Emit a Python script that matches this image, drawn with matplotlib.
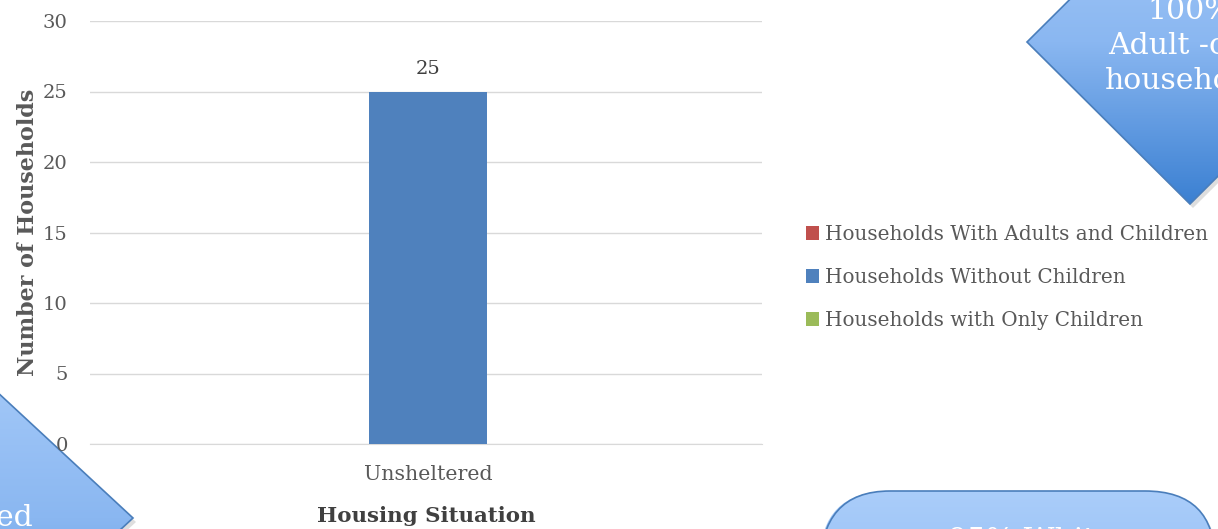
import numpy as np
import matplotlib
matplotlib.use('Agg')
import matplotlib.pyplot as plt
from matplotlib.patches import Polygon, FancyBboxPatch, Patch
from matplotlib.colors import LinearSegmentedColormap

plt.rcParams['font.family'] = ['DejaVu Serif']

categories = ['Unsheltered']
without_children = [25]
series_names = ['Households With Adults and Children',
                'Households Without Children',
                'Households with Only Children']
series_colors = ['#C0504D', '#4F81BD', '#9BBB59']
yticks = [0, 5, 10, 15, 20, 25, 30]
callouts = ['100%\nAdult -only\nhouseholds', '100%\nUnsheltered\nhouseholds', '95% White']

W, H = 1218, 529
fig = plt.figure(figsize=(W / 100, H / 100), dpi=100)
txt = '#595959'

# overlay in pixel units for the floating shapes
ov = fig.add_axes([0, 0, 1, 1], zorder=0)
ov.set_xlim(0, W)
ov.set_ylim(H, 0)
ov.axis('off')
cmap = LinearSegmentedColormap.from_list('g', ['#aacdfa', '#8ab7f1', '#3b80d2'])
grad = np.linspace(0, 1, 256).reshape(-1, 1)


def diamond(cx, cy, hw, hh):
    pts = [(cx, cy - hh), (cx + hw, cy), (cx, cy + hh), (cx - hw, cy)]
    shadow = Polygon([(x + 3, y + 4) for x, y in pts], closed=True,
                     facecolor='#c8c8c8', edgecolor='none', alpha=0.6, zorder=1)
    ov.add_patch(shadow)
    p = Polygon(pts, closed=True, facecolor='none', edgecolor='#4a7ebb',
                lw=1.2, zorder=3)
    ov.add_patch(p)
    im = ov.imshow(grad, cmap=cmap, extent=[cx - hw, cx + hw, cy + hh, cy - hh],
                   origin='upper', aspect='auto', zorder=2)
    im.set_clip_path(p)


diamond(1190, 42, 163, 162)
ov.text(1190, 46, callouts[0], ha='center', va='center', color='white',
        fontsize=21.5, linespacing=1.32, zorder=4)
diamond(-60, 518, 193, 179)
ov.text(-60, 518, callouts[1], ha='center', va='center', color='white',
        fontsize=21.5, linespacing=1.32, zorder=4)

x0, x1, y0, y1 = 820, 1215, 491, 640
sh = FancyBboxPatch((x0 + 3, y0 + 4), x1 - x0, y1 - y0,
                    boxstyle='round,pad=0,rounding_size=70',
                    facecolor='#c8c8c8', edgecolor='none', alpha=0.6, zorder=1)
ov.add_patch(sh)
rb = FancyBboxPatch((x0, y0), x1 - x0, y1 - y0,
                    boxstyle='round,pad=0,rounding_size=70',
                    facecolor='none', edgecolor='#4a7ebb', lw=1.2, zorder=3)
ov.add_patch(rb)
im = ov.imshow(grad, cmap=cmap, extent=[x0, x1, y0 + 330, y0], origin='upper',
               aspect='auto', zorder=2)
im.set_clip_path(rb)
ov.text(1030, 541, callouts[2], ha='center', va='center',
        color='white', fontsize=21.5, zorder=4)
ov.set_xlim(0, W)
ov.set_ylim(H, 0)

# chart
ax = fig.add_axes([90 / W, 1 - 444 / H, (762 - 90) / W, (444 - 21) / H], zorder=1)
ax.patch.set_alpha(0)
x = np.arange(len(categories))
bars = ax.bar(x, without_children, width=0.176, color=series_colors[1], zorder=3)
for b, v in zip(bars, without_children):
    ax.text(b.get_x() + b.get_width() / 2, v + 0.95, str(v), ha='center',
            va='bottom', color='#404040', fontsize=14)
ax.set_xlim(-0.503, 0.497)
ax.set_ylim(0, 30)
ax.set_yticks(yticks)
ax.set_xticks(x)
ax.set_xticklabels(categories)
ax.grid(axis='y', color='#d9d9d9', lw=1, zorder=0)
for s in ['top', 'right', 'left']:
    ax.spines[s].set_visible(False)
ax.spines['bottom'].set_color('#d9d9d9')
ax.tick_params(axis='y', length=0, pad=16, labelsize=14, labelcolor=txt)
ax.tick_params(axis='x', length=0, pad=15, labelsize=14.8, labelcolor=txt)
ax.set_ylabel('Number of Households', fontsize=16, fontweight='bold',
              color=txt, labelpad=3)
ax.set_xlabel('Housing Situation', fontsize=15.4, fontweight='bold',
              color='#404040', labelpad=16)

handles = [Patch(facecolor=c, edgecolor='none') for c in series_colors]
fig.legend(handles, series_names, loc='upper left',
           bbox_to_anchor=(788 / W, 1 - 207 / H), frameon=False,
           handlelength=0.65, handleheight=0.65, handletextpad=0.3,
           labelspacing=1.2, fontsize=14.4, labelcolor=txt)

fig.savefig('out.png', dpi=100)
